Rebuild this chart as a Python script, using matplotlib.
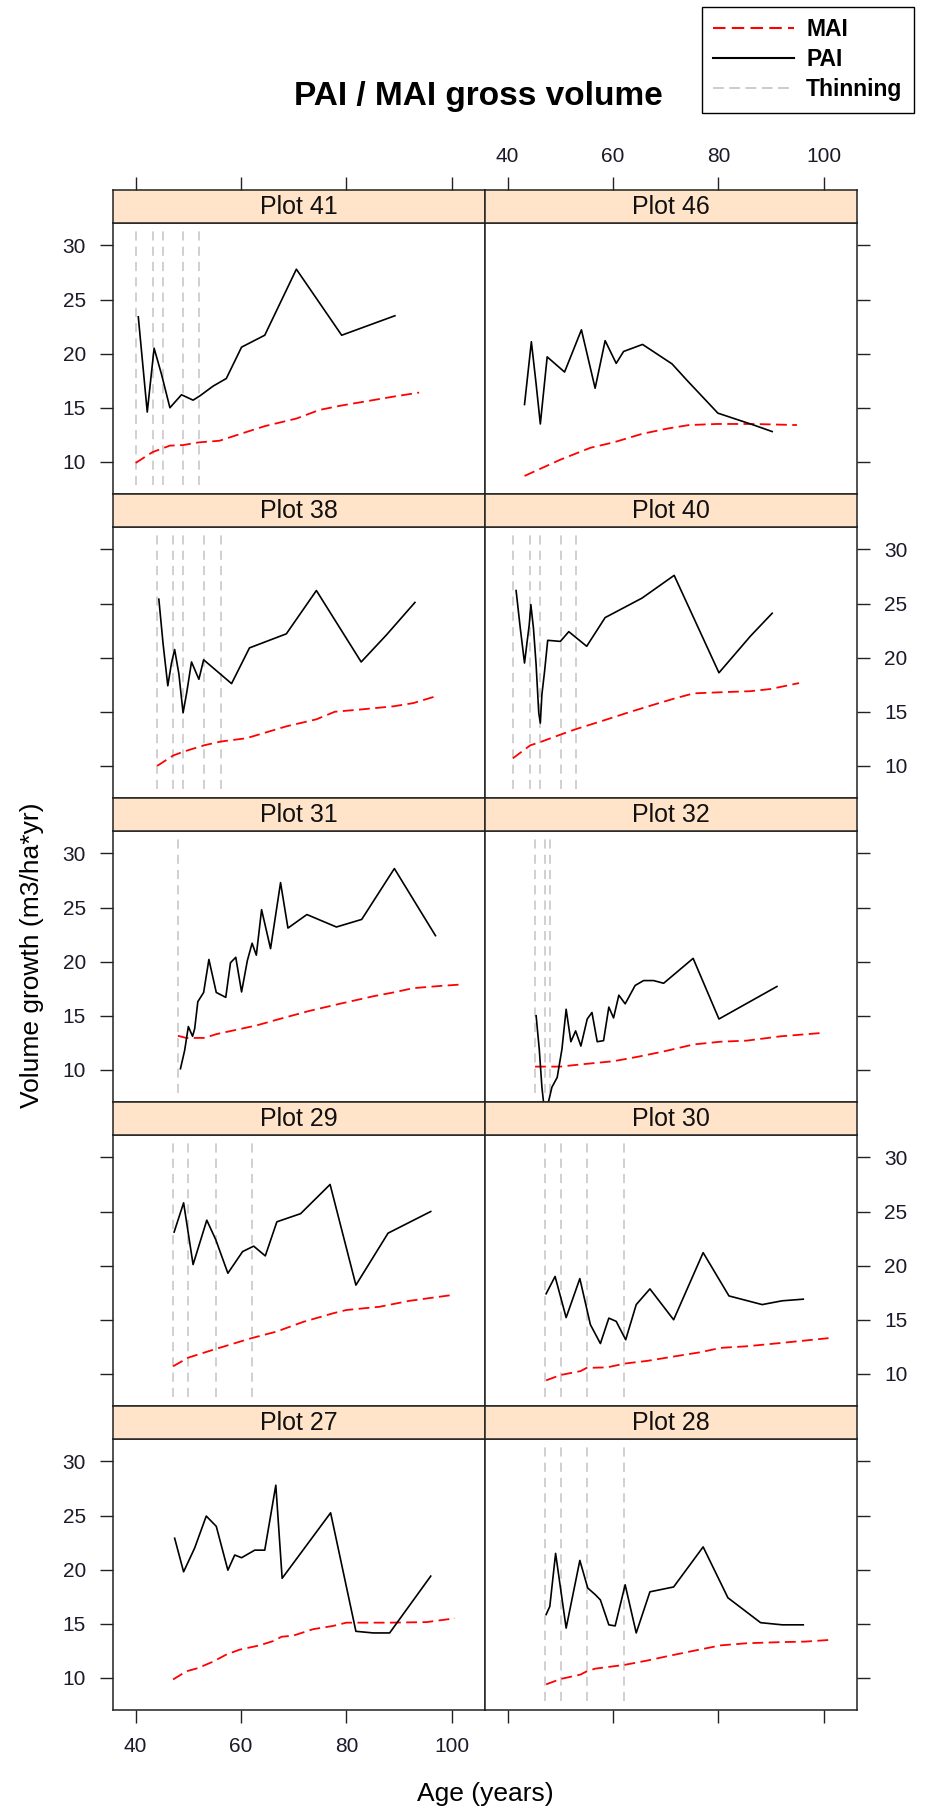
"""PAI / MAI gross volume - lattice style panel plot"""
import matplotlib
matplotlib.use('Agg')
import matplotlib.pyplot as plt
from matplotlib.lines import Line2D

plt.rcParams.update({
    'font.family': ['Liberation Sans', 'DejaVu Sans'],
    'axes.linewidth': 1.1, 'axes.edgecolor': '#222222',
    'xtick.color': '#222222', 'ytick.color': '#222222',
    'xtick.labelcolor': '#1a1a2a', 'ytick.labelcolor': '#1a1a2a',
    'xtick.labelsize': 15, 'ytick.labelsize': 15,
})

# ---- data ----
plot_names = ['Plot 41', 'Plot 46', 'Plot 38', 'Plot 40', 'Plot 31',
              'Plot 32', 'Plot 29', 'Plot 30', 'Plot 27', 'Plot 28']

p41_pai_age = [40.5, 42.2, 43.5, 44.9, 46.5, 48.7, 50.9, 52.2, 54.7, 57.2, 60.1, 64.5, 70.5, 79.1, 89.2]
p41_pai = [23.4, 14.6, 20.5, 18.1, 15.0, 16.2, 15.7, 16.1, 17.0, 17.7, 20.6, 21.7, 27.8, 21.7, 23.5]
p41_mai_age = [40, 43.2, 46.5, 49, 52, 55.9, 60, 64.5, 70.5, 74.9, 79, 89.2, 93.8]
p41_mai = [9.9, 10.9, 11.5, 11.55, 11.8, 11.95, 12.6, 13.3, 14.0, 14.8, 15.2, 16.05, 16.4]
p41_thin = [40, 43.2, 45.1, 49, 52]

p46_pai_age = [43.2, 44.5, 45.4, 46.2, 47.5, 50.8, 54.0, 56.6, 58.5, 60.6, 62.0, 65.6, 71.2, 74.1, 79.9, 86.7, 90.2]
p46_pai = [15.3, 21.1, 17.2, 13.5, 19.7, 18.3, 22.2, 16.8, 21.2, 19.1, 20.2, 20.85, 19.05, 17.5, 14.5, 13.4, 12.8]
p46_mai_age = [43.2, 50, 55.7, 60.1, 65.6, 70.6, 74.4, 79.7, 86.7, 94.9]
p46_mai = [8.7, 10.2, 11.3, 11.8, 12.6, 13.1, 13.4, 13.5, 13.5, 13.4]
p46_thin = []

p38_pai_age = [44.4, 45.2, 46.1, 46.8, 47.4, 48.2, 49.0, 49.7, 50.6, 52.0, 52.9, 58.2, 61.6, 68.6, 74.3, 82.8, 87.6, 93.0]
p38_pai = [25.4, 21.3, 17.4, 19.5, 20.75, 18.5, 14.9, 16.8, 19.6, 18.0, 19.8, 17.6, 20.9, 22.2, 26.2, 19.6, 22.1, 25.1]
p38_mai_age = [44.1, 47.1, 49, 53, 56.2, 61, 68.6, 74.3, 77.8, 82.5, 88.9, 92.7, 97.1]
p38_mai = [10.0, 10.95, 11.3, 11.9, 12.25, 12.55, 13.65, 14.3, 15.0, 15.2, 15.5, 15.8, 16.45]
p38_thin = [44.1, 47.1, 49.0, 53.0, 56.2]

p40_pai_age = [41.6, 42.4, 43.2, 43.7, 44.1, 44.4, 44.9, 45.4, 45.9, 46.2, 46.5, 47.0, 47.6, 50.0, 51.6,
               55.0, 58.5, 65.5, 71.6, 80.1, 86.1, 90.2]
p40_pai = [26.2, 22.7, 19.5, 21.5, 23.05, 24.9, 22.7, 19.35, 14.9, 13.95, 16.6, 18.7, 21.6, 21.5, 22.4,
           21.05, 23.7, 25.5, 27.6, 18.6, 22.0, 24.1]
p40_mai_age = [41, 44.3, 46.2, 50.1, 53, 57.6, 62.7, 67.7, 71.5, 75.3, 80.4, 86.1, 89.9, 95.3]
p40_mai = [10.7, 11.9, 12.2, 12.9, 13.4, 14.1, 14.9, 15.65, 16.2, 16.7, 16.8, 16.9, 17.1, 17.65]
p40_thin = [41.0, 44.2, 46.2, 50.1, 53.0]

p31_pai_age = [48.5, 49.3, 50.0, 50.8, 51.2, 51.8, 52.9, 53.9, 55.3, 57.1, 58.0, 59.0, 60.1, 61.2, 62.1,
               62.9, 63.9, 65.6, 67.5, 68.9, 72.5, 78.1, 82.9, 89.1, 96.9]
p31_pai = [10.1, 11.8, 14.0, 13.1, 13.8, 16.3, 17.15, 20.2, 17.15, 16.7, 19.9, 20.4, 17.2, 20.1, 21.7,
           20.6, 24.8, 21.2, 27.3, 23.1, 24.35, 23.2, 23.9, 28.6, 22.4]
p31_mai_age = [48, 49.6, 53.1, 55.3, 62.9, 67.3, 73, 78.7, 85.1, 88.9, 92.7, 97.7, 102.2]
p31_mai = [13.15, 12.95, 12.95, 13.3, 14.1, 14.7, 15.45, 16.1, 16.8, 17.15, 17.55, 17.75, 17.9]
p31_thin = [48.0]

p32_pai_age = [45.4, 46.0, 46.5, 46.9, 47.5, 47.8, 48.4, 49.4, 50.3, 51.1, 52.0, 52.9, 53.9, 55.1, 56.0,
               57.0, 58.2, 59.2, 60.1, 61.1, 62.3, 64.2, 65.8, 67.7, 69.6, 75.2, 80.1, 91.1]
p32_pai = [15.0, 11.9, 8.4, 6.6, 6.7, 7.15, 8.4, 9.3, 11.9, 15.6, 12.6, 13.6, 12.2, 14.7, 15.3,
           12.6, 12.7, 15.8, 14.8, 16.9, 16.1, 17.8, 18.25, 18.25, 18.0, 20.3, 14.7, 17.7]
p32_mai_age = [45.2, 50, 53.8, 60.1, 64.6, 69.6, 75.3, 80.4, 85.4, 91.8, 99.4]
p32_mai = [10.3, 10.3, 10.5, 10.8, 11.2, 11.7, 12.35, 12.6, 12.7, 13.1, 13.4]
p32_thin = [45.2, 47.1, 48.1]

p29_pai_age = [47.3, 49.1, 50.9, 53.5, 55.2, 57.5, 60.3, 62.4, 64.6, 66.8, 71.3, 76.9, 81.8, 87.9, 96.0]
p29_pai = [23.1, 25.8, 20.1, 24.2, 22.4, 19.3, 21.3, 21.8, 20.9, 24.05, 24.8, 27.5, 18.2, 23.0, 25.0]
p29_mai_age = [47.1, 50, 55.2, 62, 66.7, 71.8, 77.5, 80, 86.3, 92, 100.3]
p29_mai = [10.7, 11.5, 12.3, 13.3, 13.9, 14.8, 15.6, 15.9, 16.2, 16.75, 17.3]
p29_thin = [47.1, 50.0, 55.2, 62.0]

p30_pai_age = [47.3, 49.0, 51.1, 53.7, 55.7, 57.6, 59.2, 60.6, 62.4, 64.4, 67.0, 71.5, 77.1, 82.0, 88.3, 92.1, 96.1]
p30_pai = [17.4, 19.0, 15.2, 18.8, 14.55, 12.8, 15.15, 14.85, 13.15, 16.4, 17.85, 15.0, 21.2, 17.2, 16.4, 16.75, 16.9]
p30_mai_age = [47.3, 50.1, 53.8, 55, 58.9, 62.2, 66.5, 71.5, 76.6, 80.4, 85.4, 91.8, 100.9]
p30_mai = [9.4, 9.9, 10.25, 10.55, 10.6, 10.95, 11.2, 11.6, 12.0, 12.4, 12.55, 12.85, 13.3]
p30_thin = [47.15, 50.1, 55.0, 62.15]

p27_pai_age = [47.4, 49.1, 51.2, 53.4, 55.3, 57.5, 58.8, 60.1, 62.6, 64.5, 66.6, 67.8, 77.0, 81.8, 85.1, 88.2, 96.0]
p27_pai = [22.9, 19.8, 22.0, 24.95, 24.0, 19.95, 21.35, 21.1, 21.8, 21.8, 27.8, 19.2, 25.25, 14.3, 14.15, 14.15, 19.4]
p27_mai_age = [47.1, 49.6, 51.8, 54.7, 57.2, 59.7, 63.5, 66.1, 67.7, 69.9, 73.7, 77.5, 80, 88.2, 95.2, 100.6]
p27_mai = [9.85, 10.6, 10.9, 11.5, 12.15, 12.6, 13.0, 13.4, 13.8, 13.9, 14.5, 14.8, 15.1, 15.1, 15.15, 15.5]
p27_thin = []

p28_pai_age = [47.3, 48.0, 49.1, 51.1, 53.7, 55.2, 56.6, 57.6, 59.2, 60.4, 62.3, 64.4, 67.0, 71.5, 77.1,
               81.8, 88.0, 92.1, 96.1]
p28_pai = [15.85, 16.6, 21.5, 14.6, 20.85, 18.3, 17.7, 17.2, 14.9, 14.8, 18.6, 14.15, 17.95, 18.4, 22.1,
           17.4, 15.1, 14.9, 14.9]
p28_mai_age = [47.3, 50.1, 53.8, 55, 56.6, 62.2, 66.5, 70.3, 75.3, 80.4, 85.4, 91.8, 96.5, 100.9]
p28_mai = [9.4, 9.9, 10.3, 10.6, 10.85, 11.2, 11.6, 12.0, 12.5, 13.0, 13.2, 13.3, 13.35, 13.5]
p28_thin = [47.15, 50.1, 55.0, 62.15]

x_ticks = [40, 60, 80, 100]
y_ticks = [10, 15, 20, 25, 30]

panels = [
    (p41_pai_age, p41_pai, p41_mai_age, p41_mai, p41_thin),
    (p46_pai_age, p46_pai, p46_mai_age, p46_mai, p46_thin),
    (p38_pai_age, p38_pai, p38_mai_age, p38_mai, p38_thin),
    (p40_pai_age, p40_pai, p40_mai_age, p40_mai, p40_thin),
    (p31_pai_age, p31_pai, p31_mai_age, p31_mai, p31_thin),
    (p32_pai_age, p32_pai, p32_mai_age, p32_mai, p32_thin),
    (p29_pai_age, p29_pai, p29_mai_age, p29_mai, p29_thin),
    (p30_pai_age, p30_pai, p30_mai_age, p30_mai, p30_thin),
    (p27_pai_age, p27_pai, p27_mai_age, p27_mai, p27_thin),
    (p28_pai_age, p28_pai, p28_mai_age, p28_mai, p28_thin),
]

# ---- layout ----
W, H = 925, 1811
fig = plt.figure(figsize=(W / 100, H / 100), dpi=100)


def box(x0, y0, x1, y1):
    return [x0 / W, 1 - y1 / H, (x1 - x0) / W, (y1 - y0) / H]


cols = [(113, 485), (485, 857)]
row_tops = [190, 494, 798, 1102, 1406]
row_h, strip_h = 304, 33
XLIM, YLIM = (35.7, 106.3), (7.03, 32.07)
STRIP = '#FFE4C9'
MAI_DASH = (0, (6, 3))
tick_kw = dict(direction='out', length=9.5, width=1.0, pad=10)

for i, (name, (pa, pv, ma, mv, thin)) in enumerate(zip(plot_names, panels)):
    r, c = divmod(i, 2)
    x0, x1 = cols[c]
    top = row_tops[r]
    ax = fig.add_axes(box(x0, top + strip_h, x1, top + row_h))
    sx = fig.add_axes(box(x0, top, x1, top + strip_h))

    ax.vlines(thin, 7.9, 31.6, colors='#c4c4c4', linestyles=(0, (6, 4)), lw=1.1)
    ax.plot(ma, mv, color='red', ls=MAI_DASH, lw=1.3)
    ax.plot(pa, pv, color='black', lw=1.2)
    ax.set_xlim(*XLIM); ax.set_ylim(*YLIM)
    ax.set_xticks(x_ticks); ax.set_yticks(y_ticks)

    # y axis: alternate sides as lattice does
    ax.tick_params(axis='y', left=(c == 0), right=(c == 1),
                   labelleft=(c == 0 and r % 2 == 0), labelright=(c == 1 and r % 2 == 1), **tick_kw)
    ax.tick_params(axis='x', bottom=(r == 4), top=False,
                   labelbottom=(r == 4 and c == 0), labeltop=False, **tick_kw)

    sx.set_facecolor(STRIP)
    sx.set_xlim(*XLIM); sx.set_xticks(x_ticks); sx.set_yticks([])
    sx.tick_params(axis='x', bottom=False, labelbottom=False, top=(r == 0),
                   labeltop=(r == 0 and c == 1), direction='out', length=9.5, width=1.0, pad=8)
    sx.text(0.5, 0.47, name, transform=sx.transAxes, ha='center', va='center',
            fontsize=18, color='#111111')

fig.text(478 / W, 1 - 97 / H, 'PAI / MAI gross volume', ha='center', va='center',
         fontsize=24, fontweight='bold')
fig.text(32 / W, 1 - 955 / H, 'Volume growth (m3/ha*yr)', rotation=90,
         ha='center', va='center', fontsize=19)
fig.text(485 / W, 1 - 1794 / H, 'Age (years)', ha='center', va='center', fontsize=19)

handles = [Line2D([], [], color='red', ls=MAI_DASH, lw=1.5),
           Line2D([], [], color='black', lw=1.5),
           Line2D([], [], color='#c8c8c8', ls=MAI_DASH, lw=1.3)]
leg = fig.legend(handles, ['MAI', 'PAI', 'Thinning'], loc='upper right',
                 bbox_to_anchor=(914 / W, 1 - 7 / H), frameon=True, fancybox=False,
                 prop={'weight': 'bold', 'size': 16.5}, handlelength=3.5, borderpad=0.5,
                 labelspacing=0.3, handletextpad=0.55, borderaxespad=0)
leg.get_frame().set_edgecolor('black'); leg.get_frame().set_linewidth(1.0)
leg.get_frame().set_alpha(1.0)

fig.savefig('out.png', dpi=100)
